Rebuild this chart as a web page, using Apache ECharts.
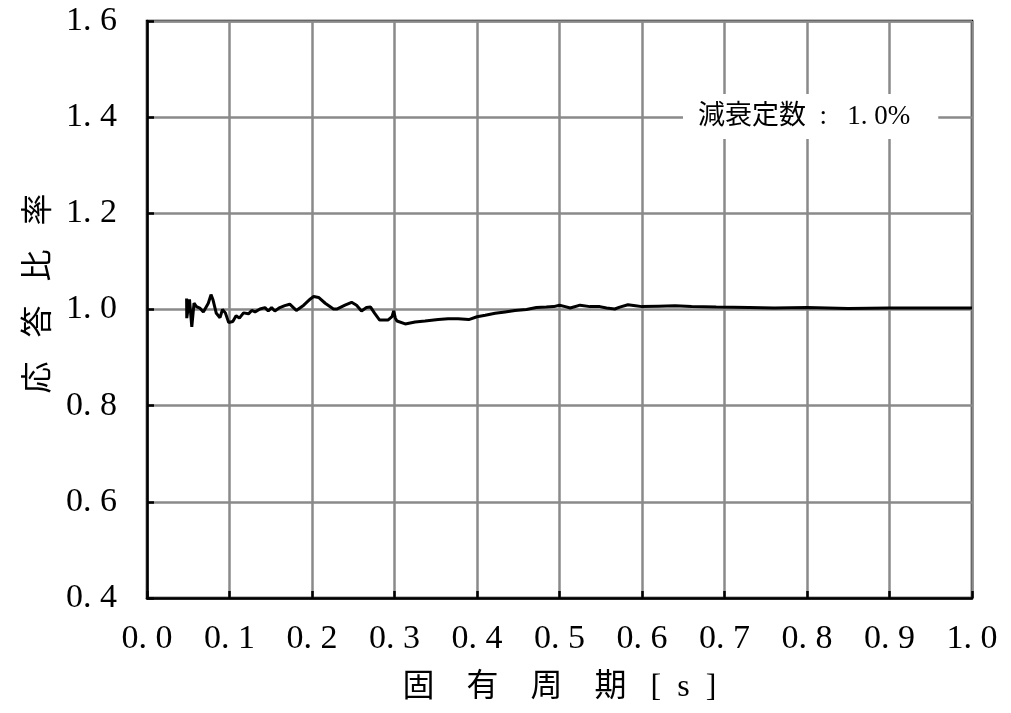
<!DOCTYPE html>
<html>
<head>
<meta charset="utf-8">
<script src="https://cdn.jsdelivr.net/npm/echarts@6/dist/echarts.min.js"></script>
<style>
html,body{margin:0;padding:0;background:#fff;}
#chart{width:1011px;height:713px;}
</style>
</head>
<body>
<div id="chart"></div>
<script>
// Period [s]
const periods = [
  0.0480, 0.0482, 0.0515, 0.0543, 0.0570, 0.0600, 0.0640, 0.0683, 0.0743, 0.0776,
  0.0800, 0.0840, 0.0885, 0.0915, 0.0950, 0.0990, 0.1040, 0.1080, 0.1120, 0.1170,
  0.1230, 0.1270, 0.1310, 0.137, 0.143, 0.147, 0.151, 0.155, 0.161, 0.167,
  0.173, 0.181, 0.190, 0.198, 0.202, 0.208, 0.216, 0.226, 0.230, 0.240,
  0.248, 0.254, 0.260, 0.266, 0.271, 0.276, 0.282, 0.292, 0.297, 0.299,
  0.301, 0.303, 0.313, 0.325, 0.337, 0.353, 0.365, 0.377, 0.390, 0.400,
  0.410, 0.422, 0.434, 0.446, 0.460, 0.472, 0.484, 0.493, 0.500, 0.507,
  0.513, 0.525, 0.537, 0.549, 0.557, 0.567, 0.573, 0.583, 0.592, 0.600,
  0.620, 0.640, 0.660, 0.690, 0.730, 0.760, 0.800, 0.850, 0.900, 0.950,
  1.000
];
// Response ratio
const ratios = [
  1.023, 0.982, 1.021, 0.964, 1.013, 1.006, 1.003, 0.995, 1.013, 1.031,
  1.020, 0.992, 0.983, 1.000, 0.993, 0.973, 0.975, 0.987, 0.982, 0.993,
  0.991, 0.998, 0.995, 1.001, 1.004, 0.997, 1.004, 0.997, 1.004, 1.008,
  1.011, 0.998, 1.009, 1.022, 1.027, 1.025, 1.013, 1.001, 1.001, 1.009,
  1.015, 1.009, 0.997, 1.004, 1.005, 0.992, 0.978, 0.978, 0.985, 0.997,
  0.982, 0.976, 0.970, 0.974, 0.976, 0.979, 0.981, 0.981, 0.979, 0.985,
  0.988, 0.992, 0.995, 0.998, 1.000, 1.004, 1.005, 1.006, 1.009, 1.006,
  1.003, 1.009, 1.006, 1.006, 1.003, 1.001, 1.005, 1.010, 1.008, 1.006,
  1.007, 1.008, 1.006, 1.005, 1.004, 1.003, 1.004, 1.002, 1.003, 1.003,
  1.003
];
const xTicks = ['0. 0','0. 1','0. 2','0. 3','0. 4','0. 5','0. 6','0. 7','0. 8','0. 9','1. 0'];
const yTicks = ['0. 4','0. 6','0. 8','1. 0','1. 2','1. 4','1. 6'];
const seriesName = '減衰定数  :   1. 0%';
const xTitle = '固　有　周　期   [  s  ]';
const yTitle = '    応   答   比   率';

const FONT = "'Liberation Serif', 'Noto Sans CJK JP', serif";
const chart = echarts.init(document.getElementById('chart'), null, {renderer: 'canvas'});
const data = periods.map((p, i) => [p, ratios[i]]);

chart.setOption({
  animation: false,
  backgroundColor: '#fff',
  textStyle: {fontFamily: FONT},
  grid: {left: 147, right: 39, top: 21, bottom: 115, show: true, borderColor: '#000', borderWidth: 2.5},
  legend: {
    left: 683, top: 94,
    data: [seriesName],
    icon: 'none', itemWidth: 0, itemHeight: 0,
    padding: [9, 28, 9, 10],
    backgroundColor: '#fff',
    selectedMode: false,
    textStyle: {fontFamily: FONT, fontSize: 27, color: '#000'}
  },
  xAxis: {
    type: 'value', min: 0, max: 1, interval: 0.1,
    name: xTitle, nameLocation: 'middle', nameGap: 74,
    nameTextStyle: {fontFamily: FONT, fontSize: 32, color: '#000'},
    axisLine: {show: true, lineStyle: {color: '#000', width: 2.5}},
    axisTick: {show: true, inside: true, length: 7, lineStyle: {color: '#000', width: 2.5}},
    splitLine: {show: true, lineStyle: {color: '#8a8a8a', width: 2.5}},
    axisLabel: {
      margin: 24, fontSize: 34, color: '#000', fontFamily: FONT,
      formatter: (v) => xTicks[Math.round(v * 10)]
    }
  },
  yAxis: {
    type: 'value', min: 0.4, max: 1.6, interval: 0.2,
    name: yTitle, nameLocation: 'middle', nameGap: 86, nameRotate: 90,
    nameTextStyle: {fontFamily: FONT, fontSize: 32, color: '#000'},
    axisLine: {show: true, lineStyle: {color: '#000', width: 2.5}},
    axisTick: {show: true, inside: true, length: 7, lineStyle: {color: '#000', width: 2.5}},
    splitLine: {show: true, lineStyle: {color: '#8a8a8a', width: 2.5}},
    axisLabel: {
      margin: 30, fontSize: 34, color: '#000', fontFamily: FONT,
      formatter: (v) => yTicks[Math.round((v - 0.4) / 0.2)]
    }
  },
  series: [{
    name: seriesName,
    type: 'line',
    data: data,
    showSymbol: false,
    symbol: 'none',
    lineStyle: {color: '#000', width: 3},
    itemStyle: {color: '#000'},
    z: 5
  }]
});
</script>
</body>
</html>
